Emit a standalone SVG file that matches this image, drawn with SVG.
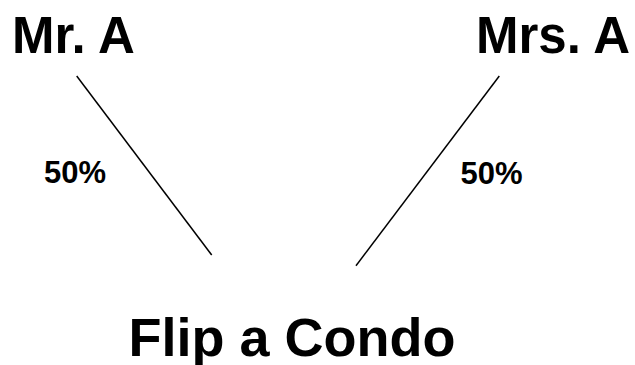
<svg xmlns="http://www.w3.org/2000/svg" width="635" height="365" viewBox="0 0 635 365">
<style>
text{font-family:"Liberation Sans",Arial,sans-serif;font-weight:bold;fill:#000}
.big{font-size:51px}
.pct{font-size:31px}
.title{font-size:54px}
.conn line{stroke:#000;stroke-width:1.5}
</style>
<rect width="635" height="365" fill="#fff"/>
<g id="mr-a"><text class="big" x="12" y="53">Mr. A</text></g>
<g id="mrs-a"><text class="big" x="476" y="53">Mrs. A</text></g>
<g id="flip-a-condo"><text class="title" x="292" y="356" text-anchor="middle">Flip a Condo</text></g>
<g id="connectors" class="conn">
<line x1="76.7" y1="76" x2="211.7" y2="255"/>
<line x1="499.3" y1="76" x2="356" y2="265.7"/>
</g>
<g id="labels">
<text class="pct" x="44" y="183">50%</text>
<text class="pct" x="460.5" y="184">50%</text>
</g>
</svg>
